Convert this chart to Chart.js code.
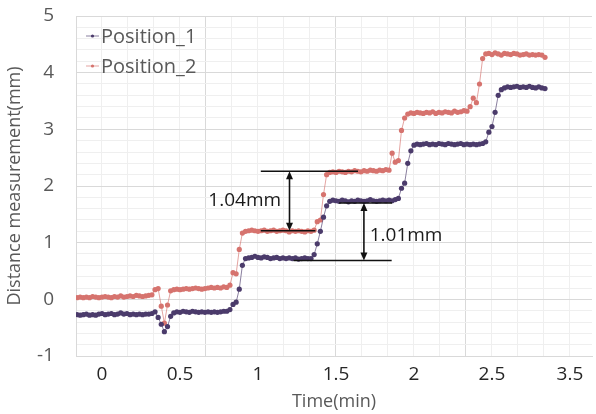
<!DOCTYPE html>
<html>
<head>
<meta charset="utf-8">
<script src="https://cdn.jsdelivr.net/npm/chart.js@4/dist/chart.umd.min.js"></script>
<style>
html,body{margin:0;padding:0;background:#fff;}
canvas{display:block;}
</style>
</head>
<body>
<canvas id="c" width="596" height="414" style="width:596px;height:414px"></canvas>
<script>
// ---- data (time in minutes, distance in mm) ----
const time = [-0.16,-0.14,-0.12,-0.10,-0.08,-0.06,-0.04,-0.02,0.00,0.02,0.04,0.06,0.08,0.10,0.12,0.14,0.16,0.18,0.20,0.22,0.24,0.26,0.28,0.30,0.32,0.34,0.36,0.38,0.40,0.42,0.44,0.46,0.48,0.50,0.52,0.54,0.56,0.58,0.60,0.62,0.64,0.66,0.68,0.70,0.72,0.74,0.76,0.78,0.80,0.82,0.84,0.86,0.88,0.90,0.92,0.94,0.96,0.98,1.00,1.02,1.04,1.06,1.08,1.10,1.12,1.14,1.16,1.18,1.20,1.22,1.24,1.26,1.28,1.30,1.32,1.34,1.36,1.38,1.40,1.42,1.44,1.46,1.48,1.50,1.52,1.54,1.56,1.58,1.60,1.62,1.64,1.66,1.68,1.70,1.72,1.74,1.76,1.78,1.80,1.82,1.84,1.86,1.88,1.90,1.92,1.94,1.96,1.98,2.00,2.02,2.04,2.06,2.08,2.10,2.12,2.14,2.16,2.18,2.20,2.22,2.24,2.26,2.28,2.30,2.32,2.34,2.36,2.38,2.40,2.42,2.44,2.46,2.48,2.50,2.52,2.54,2.56,2.58,2.60,2.62,2.64,2.66,2.68,2.70,2.72,2.74,2.76,2.78,2.80,2.82,2.84];

const position1 = [-0.27,-0.28,-0.27,-0.26,-0.28,-0.27,-0.28,-0.26,-0.25,-0.27,-0.26,-0.25,-0.27,-0.26,-0.24,-0.26,-0.25,-0.27,-0.26,-0.27,-0.26,-0.27,-0.26,-0.26,-0.25,-0.22,-0.32,-0.44,-0.57,-0.48,-0.30,-0.24,-0.22,-0.23,-0.21,-0.22,-0.23,-0.21,-0.22,-0.23,-0.22,-0.23,-0.22,-0.23,-0.22,-0.23,-0.22,-0.21,-0.21,-0.18,-0.09,-0.05,0.18,0.60,0.72,0.73,0.74,0.76,0.74,0.73,0.75,0.74,0.72,0.73,0.74,0.72,0.73,0.72,0.73,0.72,0.73,0.71,0.72,0.73,0.72,0.72,0.79,0.98,1.20,1.45,1.65,1.73,1.75,1.74,1.73,1.75,1.74,1.72,1.74,1.73,1.75,1.74,1.73,1.74,1.76,1.74,1.73,1.74,1.75,1.74,1.75,1.74,1.76,1.78,1.96,2.05,2.40,2.62,2.72,2.74,2.73,2.74,2.75,2.73,2.74,2.73,2.75,2.74,2.73,2.75,2.74,2.73,2.74,2.75,2.73,2.74,2.73,2.74,2.73,2.74,2.75,2.78,2.95,3.05,3.30,3.60,3.70,3.73,3.75,3.74,3.75,3.76,3.74,3.75,3.74,3.76,3.74,3.73,3.75,3.73,3.72];

const position2 = [0.03,0.04,0.03,0.04,0.03,0.05,0.04,0.03,0.04,0.05,0.04,0.03,0.05,0.04,0.06,0.04,0.05,0.06,0.05,0.07,0.06,0.05,0.06,0.07,0.08,0.17,0.19,-0.12,-0.42,-0.10,0.15,0.17,0.18,0.17,0.18,0.19,0.18,0.19,0.20,0.19,0.18,0.19,0.20,0.21,0.20,0.21,0.20,0.22,0.21,0.25,0.47,0.45,0.88,1.17,1.20,1.21,1.22,1.21,1.20,1.21,1.22,1.20,1.21,1.22,1.20,1.21,1.22,1.21,1.19,1.21,1.20,1.21,1.20,1.19,1.21,1.20,1.22,1.37,1.40,1.85,2.20,2.24,2.25,2.24,2.26,2.25,2.24,2.26,2.25,2.27,2.26,2.25,2.27,2.26,2.28,2.27,2.26,2.28,2.27,2.29,2.28,2.58,2.42,2.45,2.98,3.20,3.27,3.29,3.28,3.30,3.29,3.28,3.30,3.29,3.31,3.28,3.30,3.29,3.31,3.30,3.29,3.32,3.30,3.31,3.33,3.32,3.40,3.55,3.47,3.80,4.25,4.33,4.34,4.32,4.35,4.33,4.31,4.34,4.33,4.32,4.34,4.33,4.31,4.32,4.33,4.31,4.32,4.31,4.32,4.31,4.27];

const seriesNames = ['Position_1', 'Position_2'];

// tick labels (as printed on the original axes)
const xTickLabels = ['0','0.5','1','1.5','2','2.5','3.5'];
const yTickLabels = ['-1','0','1','2','3','4','5'];

// measurement annotations
const annotationTexts = ['1.04mm', '1.01mm'];

// ---- styling ----
const COLORS = ['#4b3b6b', '#d6736e'];
const LINE_COLORS = ['rgba(75,59,107,0.65)', 'rgba(214,115,110,0.65)'];
const FONT = '"Open Sans", "DejaVu Sans", sans-serif';
const TXT = '#595959';
const XTXT = '#262626';
const MAJOR = '#d9d9d9';
const MINOR = '#efefef';

const X_MIN = -1/6, X_STEP = 1/6, X_COUNT = 20;
const Y_MIN = -1, Y_MAX = 5, Y_STEP = 0.2;

function mkData(vals) { return time.map((t, i) => ({x: t, y: vals[i]})); }

const legendPlugin = {
  id: 'insideLegend',
  afterDraw(chart) {
    const c = chart.ctx;
    c.save();
    chart.data.datasets.forEach((ds, i) => {
      const y = 36 + i * 30;
      c.strokeStyle = LINE_COLORS[i];
      c.lineWidth = 1;
      c.beginPath(); c.moveTo(86, y); c.lineTo(99, y); c.stroke();
      c.fillStyle = COLORS[i];
      c.beginPath(); c.arc(92.5, y, 1.6, 0, Math.PI * 2); c.fill();
      c.fillStyle = TXT;
      c.font = '20px ' + FONT;
      c.textBaseline = 'middle';
      c.textAlign = 'left';
      c.fillText(ds.label, 101, y + 1);
    });
    c.restore();
  }
};

const annotationPlugin = {
  id: 'measure',
  afterDatasetsDraw(chart) {
    const c = chart.ctx, xs = chart.scales.x, ys = chart.scales.y;
    const X = v => xs.getPixelForValue(v), Y = v => ys.getPixelForValue(v);
    const hline = (x0, x1, y) => { c.beginPath(); c.moveTo(X(x0), Y(y)); c.lineTo(X(x1), Y(y)); c.stroke(); };
    const arrowHead = (x, yTip, dir) => {
      const px = X(x), py = Y(yTip);
      c.beginPath(); c.moveTo(px, py); c.lineTo(px - 3.5, py + dir * 8); c.lineTo(px + 3.5, py + dir * 8); c.closePath(); c.fill();
    };
    const dArrow = (x, yTop, yBot) => {
      c.beginPath(); c.moveTo(X(x), Y(yTop) + 4); c.lineTo(X(x), Y(yBot) - 4); c.stroke();
      arrowHead(x, yTop, 1); arrowHead(x, yBot, -1);
    };
    c.save();
    c.strokeStyle = '#111'; c.fillStyle = '#111'; c.lineWidth = 1.6;
    // 1.04 mm
    hline(1.018, 1.641, 2.26);
    hline(1.018, 1.368, 1.21);
    dArrow(1.202, 2.26, 1.21);
    // 1.01 mm
    hline(1.52, 1.86, 1.70);
    hline(1.228, 1.857, 0.684);
    dArrow(1.679, 1.70, 0.684);
    c.font = '19px ' + FONT;
    c.textBaseline = 'middle';
    c.fillStyle = '#1a1a1a';
    c.textAlign = 'right';
    c.fillText(annotationTexts[0], X(1.148), Y(1.75));
    c.textAlign = 'left';
    c.fillText(annotationTexts[1], X(1.716), Y(1.12));
    c.restore();
  }
};

new Chart(document.getElementById('c'), {
  type: 'line',
  data: {
    datasets: [0, 1].map(i => ({
      label: seriesNames[i],
      data: mkData(i === 0 ? position1 : position2),
      borderColor: LINE_COLORS[i],
      backgroundColor: COLORS[i],
      pointBackgroundColor: COLORS[i],
      pointBorderColor: COLORS[i],
      pointBorderWidth: 0,
      pointRadius: 2.6,
      borderWidth: 1,
      tension: 0,
      fill: false
    }))
  },
  options: {
    responsive: false,
    animation: false,
    layout: {padding: {top: 16, right: 0, left: 0, bottom: 0}},
    plugins: {legend: {display: false}, tooltip: {enabled: false}},
    scales: {
      x: {
        type: 'linear',
        min: X_MIN,
        max: X_MIN + 520 / 157.2,
        afterBuildTicks(s) {
          const t = [];
          for (let k = 0; k < X_COUNT; k++) t.push({value: X_MIN + k * X_STEP});
          s.ticks = t;
        },
        afterFit(s) { s.height = 58; s.paddingLeft = 0; s.paddingRight = 0; },
        grid: {
          drawTicks: false,
          color: ctx => (ctx.index % 5 === 0 ? MAJOR : MINOR),
          lineWidth: 1
        },
        border: {display: true, color: MAJOR, width: 1},
        ticks: {
          autoSkip: false, maxRotation: 0, padding: 7,
          color: XTXT, font: {family: FONT, size: 19},
          callback(v, i) { return (i - 1) % 3 === 0 ? xTickLabels[(i - 1) / 3] : ''; }
        },
        title: {display: true, text: 'Time(min)', color: TXT, font: {family: FONT, size: 18}, padding: {top: 0, bottom: 1}}
      },
      y: {
        type: 'linear',
        min: Y_MIN, max: Y_MAX,
        afterBuildTicks(s) {
          const t = [];
          for (let k = 0; k <= 30; k++) t.push({value: Y_MIN + k * Y_STEP});
          s.ticks = t;
        },
        afterFit(s) { s.width = 76; s.paddingTop = 0; s.paddingBottom = 0; },
        grid: {
          drawTicks: false,
          color: ctx => (ctx.index % 5 === 0 ? MAJOR : MINOR),
          lineWidth: 1
        },
        border: {display: true, color: MAJOR, width: 1},
        ticks: {
          autoSkip: false, padding: 22,
          color: TXT, font: {family: FONT, size: 19},
          callback(v, i) { return i % 5 === 0 ? yTickLabels[i / 5] : ''; }
        },
        title: {display: true, text: 'Distance measurement(mm)', color: TXT, font: {family: FONT, size: 18}, padding: {top: 4, bottom: 0}}
      }
    }
  },
  plugins: [legendPlugin, annotationPlugin]
});
</script>
</body>
</html>
